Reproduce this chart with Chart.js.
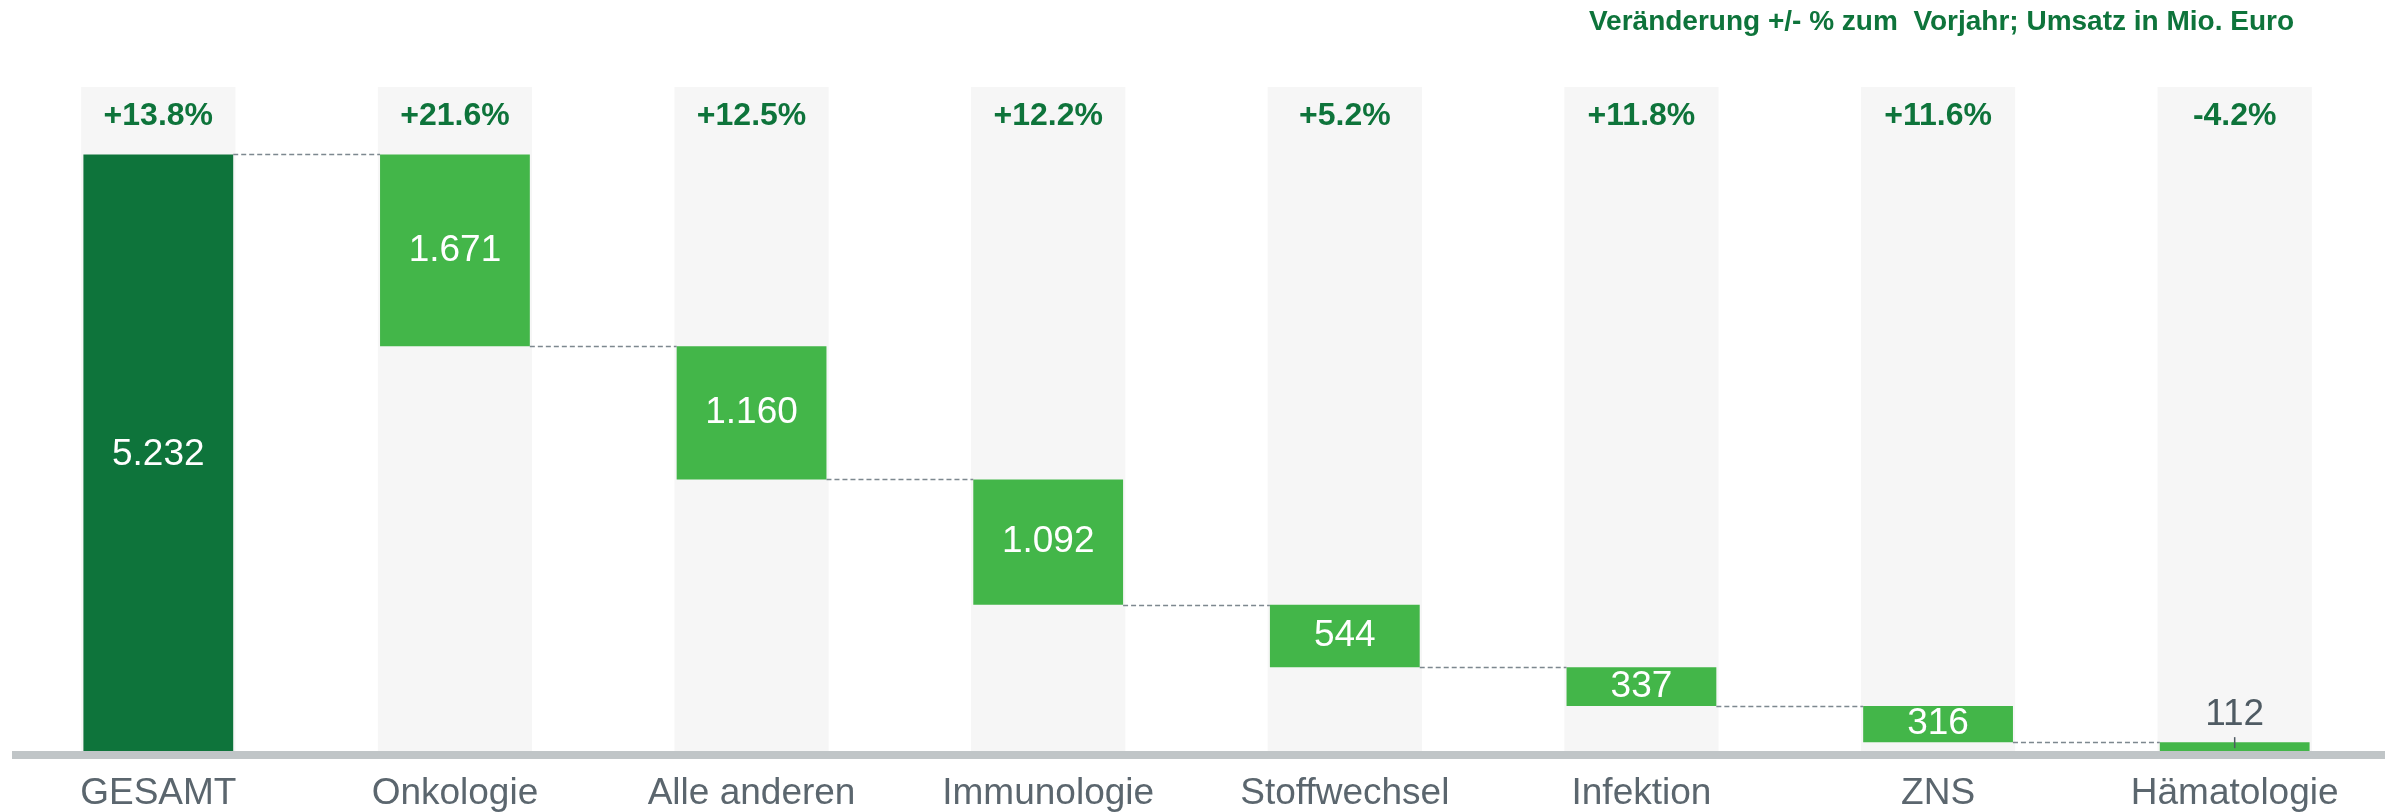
<!DOCTYPE html>
<html>
<head>
<meta charset="UTF-8" />
<title>Umsatz nach Indikation</title>
<script src="https://cdn.jsdelivr.net/npm/chart.js@4.4.1/dist/chart.umd.min.js"></script>
<style>
  html, body { margin: 0; padding: 0; background: #fff; }
</style>
</head>
<body>
<canvas id="chart" width="2390" height="812"></canvas>
<script>
// data
const categories = ['GESAMT', 'Onkologie', 'Alle anderen', 'Immunologie', 'Stoffwechsel', 'Infektion', 'ZNS', 'Hämatologie'];
const sales = [5232, 1671, 1160, 1092, 544, 337, 316, 112];
const changeLabels = ['+13.8%', '+21.6%', '+12.5%', '+12.2%', '+5.2%', '+11.8%', '+11.6%', '-4.2%'];
const subtitle = 'Veränderung +/- % zum  Vorjahr; Umsatz in Mio. Euro';
const yMax = 5820;

const FONT = '"Liberation Sans", Arial, sans-serif';
const GREEN_DARK = '#0e743b';
const GREEN = '#43b649';

// waterfall: first bar is the total, the rest step down from it
let running = sales[0];
const ranges = sales.map((v, i) => {
  if (i === 0) return [0, v];
  const r = [running - v, running];
  running -= v;
  return r;
});
const fmt = v => String(v).replace(/\B(?=(\d{3})+(?!\d))/g, '.');

const waterfallDeco = {
  id: 'waterfallDeco',
  afterDatasetsDraw(chart) {
    const { ctx, chartArea, scales: { y } } = chart;
    const bars = chart.getDatasetMeta(1).data;
    ctx.save();

    // dashed connectors
    ctx.strokeStyle = '#7d888f';
    ctx.lineWidth = 1.5;
    ctx.setLineDash([5, 3]);
    for (let i = 0; i < bars.length - 1; i++) {
      const b = bars[i], n = bars[i + 1];
      const level = i === 0 ? ranges[0][1] : ranges[i][0];
      const yy = Math.round(y.getPixelForValue(level)) + 0.5;
      ctx.beginPath();
      ctx.moveTo(b.x + b.width / 2, yy);
      ctx.lineTo(n.x - n.width / 2, yy);
      ctx.stroke();
    }
    ctx.setLineDash([]);

    // axis line (sits over the foot of the bars)
    ctx.fillStyle = '#c0c5c7';
    ctx.fillRect(chartArea.left + 2, chartArea.bottom - 4, chartArea.right - chartArea.left, 8);

    // value labels
    ctx.textAlign = 'center';
    ctx.textBaseline = 'middle';
    ctx.font = '37px ' + FONT;
    bars.forEach((b, i) => {
      const yTop = Math.min(b.y, b.base), yBot = Math.max(b.y, b.base);
      if (yBot - yTop > 30) {
        ctx.fillStyle = '#ffffff';
        ctx.fillText(fmt(sales[i]), b.x, (yTop + yBot) / 2);
      } else {
        ctx.fillStyle = '#4f5b63';
        ctx.fillText(fmt(sales[i]), b.x, yTop - 27);
        ctx.strokeStyle = '#4f5b63';
        ctx.lineWidth = 1.5;
        ctx.beginPath();
        ctx.moveTo(b.x, yTop - 5);
        ctx.lineTo(b.x, yTop + 6);
        ctx.stroke();
      }
    });

    // change labels
    ctx.font = 'bold 32px ' + FONT;
    ctx.fillStyle = GREEN_DARK;
    bars.forEach((b, i) => {
      ctx.fillText(changeLabels[i], b.x, chartArea.top + 29);
    });

    // subtitle
    ctx.font = 'bold 28px ' + FONT;
    ctx.textAlign = 'right';
    ctx.fillText(subtitle, chartArea.right - 89, 22);
    ctx.restore();
  }
};

new Chart(document.getElementById('chart'), {
  type: 'bar',
  data: {
    labels: categories,
    datasets: [
      {
        label: 'bg',
        data: categories.map(() => yMax),
        backgroundColor: '#f6f6f6',
        barPercentage: 0.52,
        categoryPercentage: 1,
        grouped: false,
        order: 2
      },
      {
        label: 'Umsatz',
        data: ranges,
        backgroundColor: sales.map((v, i) => i === 0 ? GREEN_DARK : GREEN),
        barPercentage: 0.505,
        categoryPercentage: 1,
        grouped: false,
        order: 1
      }
    ]
  },
  options: {
    responsive: false,
    animation: false,
    layout: { padding: { top: 87, left: 10, right: 7, bottom: 0 } },
    plugins: { legend: { display: false }, tooltip: { enabled: false } },
    scales: {
      x: {
        grid: { display: false, drawTicks: false },
        border: { display: false },
        ticks: { color: '#5b666e', font: { family: FONT, size: 37 }, padding: 17, maxRotation: 0 },
        afterFit(scale) { scale.height = 57; }
      },
      y: { display: false, min: 0, max: yMax }
    }
  },
  plugins: [waterfallDeco]
});
</script>
</body>
</html>
